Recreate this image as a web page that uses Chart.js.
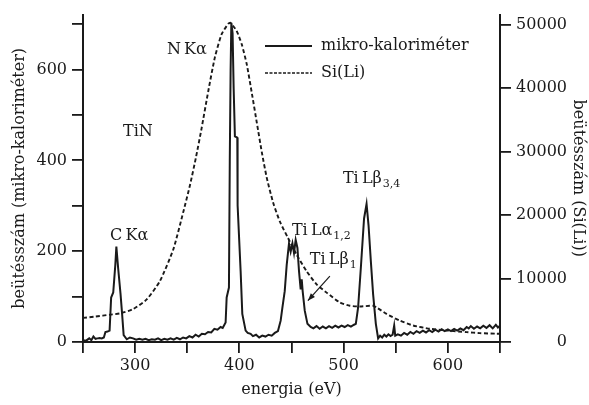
<!DOCTYPE html>
<html>
<head>
<meta charset="utf-8">
<script src="https://cdn.jsdelivr.net/npm/chart.js@4"></script>
<style>
  html, body { margin: 0; padding: 0; background: #fff; }
</style>
</head>
<body>
<canvas id="chart" width="589" height="405"></canvas>
<script>
// mikro-kaloriméter spectrum (left axis)
const mkEnergy = [250, 253, 256, 258, 260, 262, 264, 266, 268, 270, 271.5, 273.5, 275.5, 277, 279, 281, 282, 283.7, 286, 287.5,
  289, 292, 295, 298, 301, 304, 307, 310, 313, 316, 319, 322, 325, 328, 331, 334, 337, 340, 343, 346,
  349, 352, 355, 358, 361, 364, 367, 370, 373, 376, 379, 382, 384, 386.8, 387.8, 390, 390.8, 391.6, 392.3, 393.5,
  394.5, 395.7, 398, 398.3, 401.2, 402.8, 406, 408, 410.8, 413, 416, 419, 422, 425, 428, 431, 434, 437, 439.6, 441.3,
  443.5, 445.4, 447.6, 449.2, 450.9, 452.4, 454, 455.7, 457.2, 458.8, 459.8, 460.7, 462.7, 465.3, 468.4, 471, 474, 477, 480, 483,
  486, 489, 492, 495, 498, 501, 504, 507, 510, 511.7, 513.9, 516.5, 519.6, 522, 523.9, 526.1, 528.3, 530.9, 533.1, 535,
  537, 539, 541, 543, 545, 547, 548.5, 549.5, 552, 555, 558, 561, 564, 567, 570, 573, 576, 579, 582, 585,
  588, 591, 594, 597, 600, 603, 606, 609, 612, 615, 618, 620, 622, 625, 628, 631, 634, 637, 640, 643,
  646, 648, 650];
const mkCounts = [4, 3, 8, 4, 12, 7, 8, 9, 8, 10, 22, 23, 25, 98, 109, 170, 210, 163, 106, 62,
  15, 6, 10, 8, 5, 7, 5, 7, 4, 6, 5, 8, 4, 7, 5, 8, 5, 9, 6, 10,
  8, 13, 10, 16, 12, 18, 17, 22, 21, 29, 27, 33, 31, 43, 98, 120, 400, 600, 703, 680,
  560, 453, 450, 301, 156, 62, 25, 20, 18, 13, 16, 10, 14, 12, 16, 14, 20, 24, 47, 76,
  112, 170, 217, 199, 217, 196, 225, 207, 156, 116, 138, 112, 69, 40, 33, 30, 35, 29, 34, 30,
  35, 31, 36, 32, 36, 33, 37, 34, 38, 40, 76, 163, 272, 304, 257, 178, 105, 40, 8, 14,
  10, 16, 12, 17, 13, 16, 36, 14, 17, 14, 20, 16, 22, 18, 24, 20, 25, 21, 26, 22,
  27, 23, 28, 24, 28, 24, 29, 25, 30, 26, 33, 30, 35, 29, 34, 30, 36, 31, 37, 30,
  38, 32, 36];

// Si(Li) spectrum (right axis)
const siEnergy = [250, 262, 275.9, 285.5, 298.2, 311.1, 323.8, 336.6, 346.2, 352.6, 358.3, 363.8, 370.1, 376.6, 383, 389.3, 391.4,
  397.4, 402.2, 407, 412, 416.8, 421.6, 426.4, 432.5, 438.9, 446.8, 454.9, 464.5, 474.1, 483.7, 496.4, 506, 515.6,
  528.3, 531.6, 541.2, 553.9, 566.7, 582.7, 598.7, 617.9, 630.6, 646.6, 650];
const siCounts = [3794, 4000, 4300, 4510, 5194, 6700, 9600, 14570, 20480, 24680, 29030, 33690, 39450, 44900, 48470, 50100, 50260,
  48980, 46910, 43800, 39140, 34470, 29810, 25770, 21890, 18940, 16330, 13750, 11150, 9080, 7775, 6220, 5710, 5600,
  5710, 5440, 4420, 3370, 2600, 2080, 1820, 1555, 1400, 1306, 1300];

const xTicks = [250, 300, 350, 400, 450, 500, 550, 600, 650];
const xTickLabels = ['', '300', '', '400', '', '500', '', '600', ''];
const yLeftTicks = [0, 100, 200, 300, 400, 500, 600, 700];
const yLeftLabels = ['0', '', '200', '', '400', '', '600', ''];
const yRightTicks = [0, 10000, 20000, 30000, 40000, 50000];
const yRightLabels = ['0', '10000', '20000', '30000', '40000', '50000'];

const FONT = 'DejaVu Serif';
const INK = '#1a1a1a';

function pairs(xs, ys) {
  return xs.map((x, i) => ({ x: x, y: ys[i] }));
}

function setTicks(list) {
  return function (scale) {
    scale.ticks = list.map(v => ({ value: v }));
  };
}

function axisGrid() {
  return { display: true, drawOnChartArea: false, drawTicks: true, tickLength: 11, color: INK, lineWidth: 1.8 };
}

// legend and peak labels drawn on the plot area
const notes = {
  id: 'notes',
  afterDraw(chart) {
    const ctx = chart.ctx;
    const xs = chart.scales.x;
    const ys = chart.scales.y;
    const px = v => xs.getPixelForValue(v);
    const py = v => ys.getPixelForValue(v);
    ctx.save();
    ctx.fillStyle = INK;
    ctx.strokeStyle = INK;
    ctx.textBaseline = 'alphabetic';
    ctx.textAlign = 'left';

    function label(text, sub, x, y) {
      ctx.font = '16px "' + FONT + '"';
      ctx.fillText(text, px(x), py(y));
      if (sub) {
        const w = ctx.measureText(text).width;
        ctx.font = '11px "' + FONT + '"';
        ctx.fillText(sub, px(x) + w + 1, py(y) + 4);
      }
    }

    label('N\u2009K\u03b1', '', 330.5, 634);
    label('TiN', '', 288.4, 454);
    label('C\u2009K\u03b1', '', 275.9, 225);
    label('Ti\u2009L\u03b1', '1,2', 450.4, 236);
    label('Ti\u2009L\u03b2', '1', 467.6, 171);
    label('Ti\u2009L\u03b2', '3,4', 499.3, 351);

    // arrow towards Ti Lβ1
    const ax0 = px(486.8), ay0 = py(145), ax1 = px(465.7), ay1 = py(91);
    ctx.lineWidth = 1.2;
    ctx.beginPath();
    ctx.moveTo(ax0, ay0);
    ctx.lineTo(ax1, ay1);
    ctx.stroke();
    const ang = Math.atan2(ay1 - ay0, ax1 - ax0);
    ctx.beginPath();
    ctx.moveTo(ax1, ay1);
    ctx.lineTo(ax1 - 8 * Math.cos(ang - 0.35), ay1 - 8 * Math.sin(ang - 0.35));
    ctx.lineTo(ax1 - 8 * Math.cos(ang + 0.35), ay1 - 8 * Math.sin(ang + 0.35));
    ctx.closePath();
    ctx.fill();

    // legend
    const ds = chart.data.datasets;
    const lx0 = 265, lx1 = 312, tx = 321;
    [46, 73].forEach((ly, i) => {
      ctx.lineWidth = i === 0 ? 1.8 : 1.3;
      ctx.setLineDash(i === 0 ? [] : [3, 1.5]);
      ctx.beginPath();
      ctx.moveTo(lx0, ly);
      ctx.lineTo(lx1, ly);
      ctx.stroke();
      ctx.setLineDash([]);
      ctx.font = '16px "' + FONT + '"';
      ctx.textBaseline = 'middle';
      ctx.fillText(ds[i].label, tx, ly);
    });
    ctx.restore();
  }
};

new Chart(document.getElementById('chart'), {
  type: 'line',
  data: {
    datasets: [
      {
        label: 'mikro-kaloriméter',
        data: pairs(mkEnergy, mkCounts),
        yAxisID: 'y',
        borderColor: INK,
        borderWidth: 2,
        pointRadius: 0,
        tension: 0
      },
      {
        label: 'Si(Li)',
        data: pairs(siEnergy, siCounts),
        yAxisID: 'y2',
        borderColor: INK,
        borderWidth: 1.9,
        borderDash: [4, 2.5],
        pointRadius: 0,
        tension: 0.2
      }
    ]
  },
  options: {
    responsive: false,
    animation: false,
    devicePixelRatio: 1,
    layout: { padding: { top: 10, left: 0, right: 22, bottom: 0 } },
    plugins: {
      legend: { display: false },
      tooltip: { enabled: false }
    },
    scales: {
      x: {
        type: 'linear',
        min: 250,
        max: 650,
        afterBuildTicks: setTicks(xTicks),
        afterFit(s) { s.height = 63; },
        grid: axisGrid(),
        border: { display: true, color: INK, width: 2 },
        ticks: {
          autoSkip: false,
          maxRotation: 0,
          padding: 3,
          color: INK,
          font: { family: FONT, size: 16 },
          callback: (v, i) => xTickLabels[i]
        },
        title: {
          display: true,
          text: 'energia (eV)',
          color: INK,
          font: { family: FONT, size: 16 },
          padding: { top: 0, bottom: 6 }
        }
      },
      y: {
        type: 'linear',
        position: 'left',
        min: 0,
        max: 721,
        afterBuildTicks: setTicks(yLeftTicks),
        afterFit(s) { s.width = 83; },
        grid: axisGrid(),
        border: { display: true, color: INK, width: 2 },
        ticks: {
          autoSkip: false,
          padding: 5,
          color: INK,
          font: { family: FONT, size: 16 },
          callback: (v, i) => yLeftLabels[i]
        },
        title: {
          display: true,
          text: 'beütésszám (mikro-kaloriméter)',
          color: INK,
          font: { family: FONT, size: 16 },
          padding: { top: 10, bottom: 0 }
        }
      },
      y2: {
        type: 'linear',
        position: 'right',
        min: 0,
        max: 51555,
        afterBuildTicks: setTicks(yRightTicks),
        // right edge of this box is where the labels end (right-aligned)
        afterFit(s) { s.width = 67; },
        grid: axisGrid(),
        border: { display: true, color: INK, width: 2 },
        ticks: {
          autoSkip: false,
          padding: 4,
          crossAlign: 'far',
          color: INK,
          font: { family: FONT, size: 16 },
          callback: (v, i) => yRightLabels[i]
        },
        title: {
          display: true,
          text: 'beütésszám (Si(Li))',
          color: INK,
          font: { family: FONT, size: 16 },
          padding: { top: -21, bottom: 0 }
        }
      }
    }
  },
  plugins: [notes]
});
</script>
</body>
</html>
